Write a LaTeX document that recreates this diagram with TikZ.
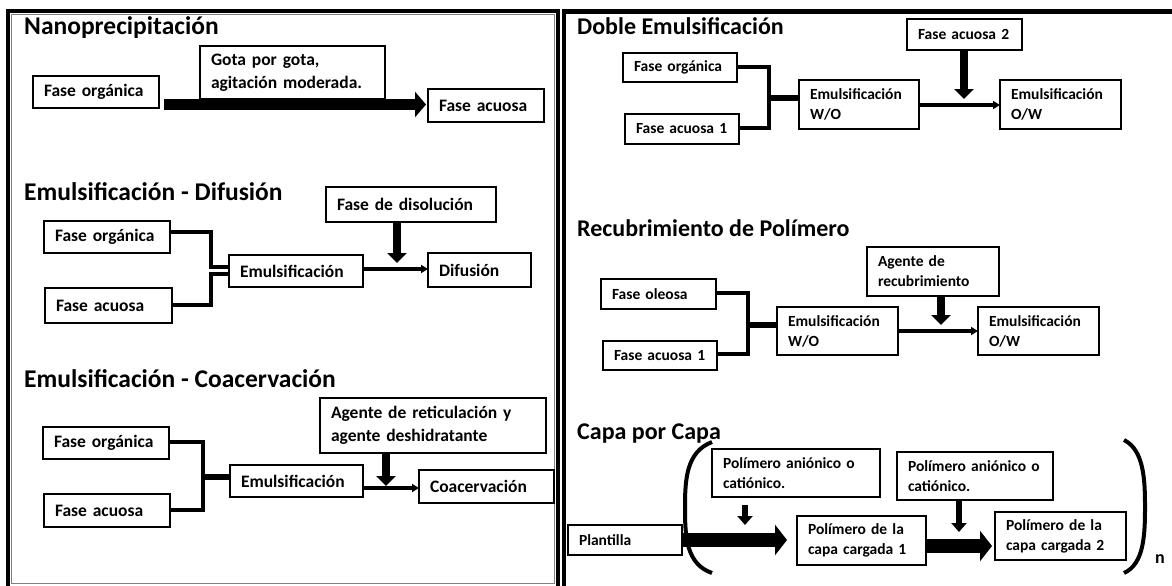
\documentclass[tikz,border=0pt]{standalone}
\usepackage{fontspec}
\setmainfont{Carlito}
\newfontfamily\cfont{Carlito}
\usetikzlibrary{arrows.meta}
\newcommand\bx[7]{%
  \pgfmathsetmacro\myW{#5-#3}\pgfmathsetmacro\myH{#6-#4}\pgfmathsetmacro\myT{#5-#3-22}%
  \node[#1, minimum width=\myW pt, minimum height=\myH pt, text width=\myT pt] (#2) at (#3,#4) {#7};}
\tikzset{
  box/.style={draw, line width=2.2pt, inner xsep=10pt, inner ysep=0pt, outer sep=0pt, align=left, anchor=north west},
  lbox/.style={box, font=\cfont\bfseries\fontsize{17.5}{22.5}\selectfont},
  rbox/.style={box, font=\cfont\bfseries\fontsize{15.5}{20}\selectfont},
  ttl/.style={anchor=base west, inner sep=0pt, font=\cfont\bfseries\fontsize{25.5}{30}\selectfont},
  rttl/.style={anchor=base west, inner sep=0pt, font=\cfont\bfseries\fontsize{24}{29}\selectfont},
  conn/.style={line width=3.5pt},
  merge/.style={line width=5.5pt},
  thinarrow/.style={line width=3.5pt, -{Triangle[length=7pt,width=8pt]}},
  dnarrow/.style={line width=8pt, -{Triangle[length=10pt,width=19pt]}},
  smalldn/.style={line width=5.5pt, -{Triangle[length=9pt,width=15pt]}},
  bigarrow/.style={line width=11pt, -{Triangle[length=11pt,width=25pt]}},
  hugearrow/.style={line width=14.5pt, -{Triangle[length=12pt,width=30pt]}},
  paren/.style={line width=4pt},
}
\begin{document}
\begin{tikzpicture}[x=1pt,y=-1pt]
\useasboundingbox (0,0) rectangle (1172,586);
\clip (0,0) rectangle (1172,586);
\fill[white] (0,0) rectangle (1172,586);
% panels
\draw[line width=4pt] (7.5,11.5) rectangle (557.5,592);
\draw[gray, line width=1pt] (11,15) rectangle (554,583.5);
\draw[line width=4.5pt] (564,600) -- (564,11.5) -- (1180,11.5);

% ===== Nanoprecipitacion
\node[ttl] (t1) at (24,35) {Nanoprecipitación};
\bx{lbox}{b1}{33}{76}{159}{108}{Fase orgánica}
\bx{lbox}{b2}{200}{46}{385}{99}{Gota por gota,\\ agitación moderada.}
\bx{lbox}{b3}{428}{89}{544}{122}{Fase acuosa}
\draw[bigarrow, shorten <=5pt, shorten >=2pt] (b1.east |- 0,104.5) -- (b3.west |- 0,104.5);

% ===== Emulsificacion - Difusion
\node[ttl] (t2) at (24,200) {Emulsificación - Difusión};
\bx{lbox}{c1}{326}{187}{496}{222}{Fase de disolución}
\bx{lbox}{c2}{44}{221}{170}{253}{Fase orgánica}
\bx{lbox}{c3}{45}{288}{172}{323}{Fase acuosa}
\bx{lbox}{c4}{229}{255}{363}{287}{Emulsificación}
\bx{lbox}{c5}{428}{253}{531}{287}{Difusión}
\draw[conn] (c2.east |- 0,232) -| (211,267) -- (c4.west |- 0,267);
\draw[conn] (c3.east |- 0,305) -| (211,274) -- (c4.west |- 0,274);
\draw[thinarrow] (c4.east |- 0,269) -- (c5.west |- 0,269);
\coordinate (d2) at (397,263);
\draw[dnarrow] (c1.south -| d2) -- (d2);

% ===== Emulsificacion - Coacervacion
\node[ttl] (t3) at (24,387) {Emulsificación - Coacervación};
\bx{lbox}{e1}{320}{398}{546}{453}{Agente de reticulación y\\ agente deshidratante}
\bx{lbox}{e2}{43}{427}{169}{459}{Fase orgánica}
\bx{lbox}{e3}{44}{494}{170}{527}{Fase acuosa}
\bx{lbox}{e4}{230}{465}{363}{497}{Emulsificación}
\bx{lbox}{e5}{419}{470}{554}{503}{Coacervación}
\coordinate (m3) at (203,477);
\draw[conn] (e2.east |- 0,442) -| (m3);
\draw[conn] (e3.east |- 0,510) -| (m3);
\draw[merge] (m3) -- (e4.west |- m3);
\draw[thinarrow] (e4.east |- 0,488) -- (e5.west |- 0,488);
\coordinate (d3) at (386,486);
\draw[dnarrow] (e1.south -| d3) -- (d3);

% ===== Doble Emulsificacion
\node[rttl] (t4) at (577,35) {Doble Emulsificación};
\bx{rbox}{f1}{907}{19}{1022}{50}{Fase acuosa 2}
\bx{rbox}{f2}{623}{53}{737}{82}{Fase orgánica}
\bx{rbox}{f3}{625}{114}{739}{144}{Fase acuosa 1}
\bx{rbox}{f4}{799}{80}{919}{129}{Emulsificación\\ W/O}
\bx{rbox}{f5}{1000}{80}{1121}{129}{Emulsificación\\ O/W}
\coordinate (m4) at (769,98);
\draw[conn] (f2.east |- 0,67) -| (m4);
\draw[conn] (f3.east |- 0,128) -| (m4);
\draw[merge] (m4) -- (f4.west |- m4);
\draw[thinarrow] (f4.east |- 0,105) -- (f5.west |- 0,105);
\coordinate (d4) at (964,99);
\draw[dnarrow] (f1.south -| d4) -- (d4);

% ===== Recubrimiento de Polimero
\node[rttl] (t5) at (577,236) {Recubrimiento de Polímero};
\bx{rbox}{g1}{867}{247}{999}{296}{Agente de\\ recubrimiento}
\bx{rbox}{g2}{601}{279}{716}{309}{Fase oleosa}
\bx{rbox}{g3}{603}{341}{717}{370}{Fase acuosa 1}
\bx{rbox}{g4}{777}{307}{898}{355}{Emulsificación\\ W/O}
\bx{rbox}{g5}{978}{307}{1099}{355}{Emulsificación\\ O/W}
\coordinate (m5) at (748,325);
\draw[conn] (g2.east |- 0,293) -| (m5);
\draw[conn] (g3.east |- 0,354) -| (m5);
\draw[merge] (m5) -- (g4.west |- m5);
\draw[thinarrow] (g4.east |- 0,331) -- (g5.west |- 0,331);
\coordinate (d5) at (941,325);
\draw[dnarrow] (g1.south -| d5) -- (d5);

% ===== Capa por Capa
\node[rttl] (t6) at (577,439) {Capa por Capa};
\bx{rbox}{h1}{568}{525}{682}{555}{Plantilla}
\bx{rbox}{h2}{712}{449}{880}{497}{Polímero aniónico o\\ catiónico.}
\bx{rbox}{h3}{897}{452}{1053}{500}{Polímero aniónico o\\ catiónico.}
\bx{rbox}{h4}{797}{516}{926}{565}{Polímero de la\\ capa cargada 1}
\bx{rbox}{h5}{995}{512}{1126}{560}{Polímero de la\\ capa cargada 2}
\draw[hugearrow, shorten >=10pt] (h1.east |- 0,540) -- (h4.west |- 0,540);
\draw[hugearrow, line width=14pt, shorten >=3pt] (h4.east |- 0,546) -- (h5.west |- 0,546);
\coordinate (k1) at (745,525);
\draw[smalldn, shorten <=8pt] (h2.south -| k1) -- (k1);
\coordinate (k2) at (959,532);
\draw[smalldn] (h3.south -| k2) -- (k2);
\draw[paren] (712,442) .. controls (686,452) and (685,480) .. (685,508) .. controls (685,536) and (686,564) .. (712,573);
\draw[paren] (1124,440) .. controls (1144,450) and (1145,480) .. (1145,507) .. controls (1145,535) and (1144,564) .. (1124,573);
\node[anchor=base west, inner sep=0pt, font=\cfont\bfseries\fontsize{18}{22}\selectfont] (nn) at (1155,563) {n};
\end{tikzpicture}
\end{document}
